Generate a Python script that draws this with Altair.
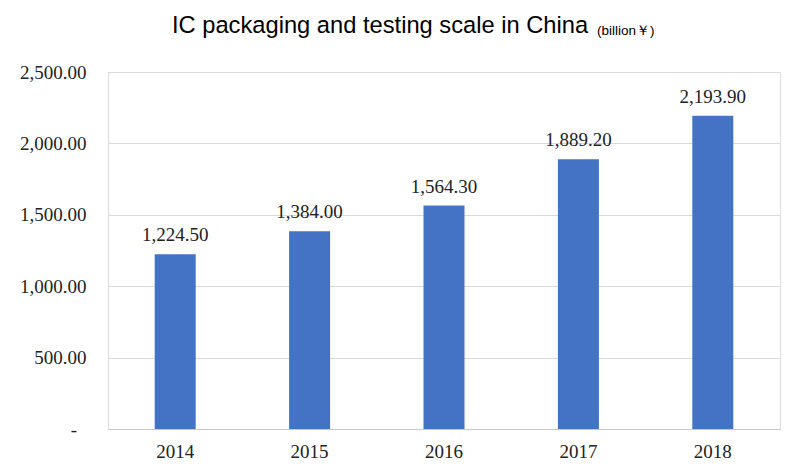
import altair as alt
import pandas as pd

years = ["2014", "2015", "2016", "2017", "2018"]
values = [1224.50, 1384.00, 1564.30, 1889.20, 2193.90]
y_ticks = [0, 500, 1000, 1500, 2000, 2500]
title_main = "IC packaging and testing scale in China"
title_unit = "(billion￥)"

df = pd.DataFrame({"year": years, "value": values})

serif = "Liberation Serif"
sans = "Liberation Sans"

base = alt.Chart(df)

bars = base.mark_bar(color="#4472C4").encode(
    x=alt.X("year:N", sort=years,
            scale=alt.Scale(paddingInner=0.695, paddingOuter=0.3475),
            axis=alt.Axis(title=None, labelAngle=0, labelFont=serif, labelFontSize=19,
                          labelColor="#222222", labelPadding=13, ticks=False,
                          domainColor="#c8c8c8", domainWidth=1.2, grid=False)),
    y=alt.Y("value:Q", scale=alt.Scale(domain=[0, 2500], nice=False),
            axis=alt.Axis(title=None, values=y_ticks,
                          labelExpr="datum.value == 0 ? '-\u2002\u2060' : format(datum.value, ',.2f')",
                          labelFont=serif, labelFontSize=19, labelColor="#222222",
                          labelPadding=22, ticks=False, domain=False,
                          gridColor="#d9d9d9", gridWidth=1.2)),
)

labels = base.mark_text(font=serif, fontSize=19, color="#222222", baseline="alphabetic", dy=-13).encode(
    x=alt.X("year:N", sort=years),
    y="value:Q",
    text=alt.Text("value:Q", format=",.2f"),
)

t1 = alt.Chart(pd.DataFrame({"t": [title_main]})).mark_text(
    font=sans, fontSize=23.7, color="#000000", align="left", baseline="alphabetic"
).encode(x=alt.value(64), y=alt.value(-39), text="t:N")

t2 = alt.Chart(pd.DataFrame({"t": [title_unit]})).mark_text(
    font=sans, fontSize=13.5, color="#000000", align="left", baseline="alphabetic"
).encode(x=alt.value(489), y=alt.value(-37), text="t:N")

chart = alt.layer(bars, labels, t1, t2).properties(
    width=672, height=357,
    autosize=alt.AutoSizeParams(type="none"),
    padding={"left": 100, "top": 64, "right": 12, "bottom": 36},
).configure_view(stroke=None).configure(background="white")

chart.save("out.html", embed_options={"renderer": "svg", "actions": False})
